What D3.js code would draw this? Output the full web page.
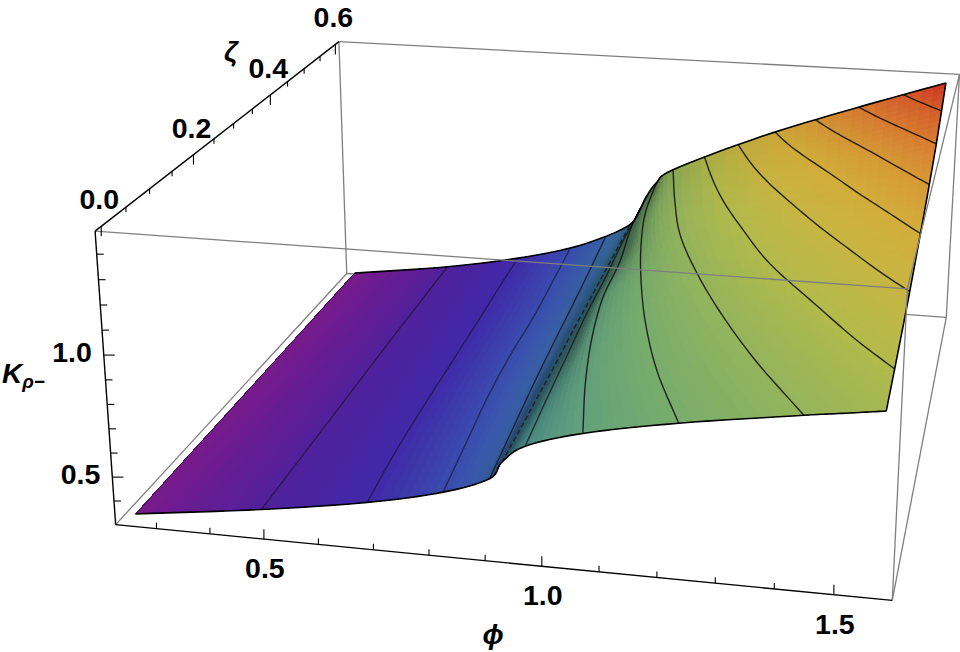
<!DOCTYPE html>
<html><head><meta charset="utf-8"><style>html,body{margin:0;background:#fff}svg{display:block}text{font-family:"Liberation Sans",Arial,sans-serif;font-weight:bold;fill:#000}</style></head><body>
<script src="https://cdnjs.cloudflare.com/ajax/libs/d3/7.8.5/d3.min.js"></script>
<svg id="c" width="960" height="652"></svg>
<script>
// ---- values ----
const phiDomain=[0.223,1.597], zetaDomain=[-0.012,0.612], kDomain=[0.3001,1.4899];
const camera=[[717.9832,335.547,-24.61713,115.6529],[36.29537,-168.7745,-303.4435,524.6729],[-0.0657121,0.3012812,-0.04266625,1]];
const zetaRows=[0,0.1,0.2,0.3,0.4,0.5,0.6];
const levels=[0.395,0.466,0.537,0.609,0.680,0.752,0.823,0.895,0.966,1.038,1.109,1.181,1.252,1.324,1.395];
const phiStart=0.2505, phiEnd=1.5708;
// phi where K reaches levels[0..8], one row per level, one column per zetaRows
const phiAtLevel=[
[.488,.485,.482,.479,.476,.474,.472],
[.683,.670,.662,.656,.650,.643,.637],
[.820,.805,.790,.781,.777,.768,.758],
[.903,.891,.879,.869,.860,.850,.839],
[.925,.921,.916,.910,.905,.900,.895],
[.966,.955,.945,.935,.929,.920,.915],
[1.066,1.024,.990,.966,.957,.938,.930],
[1.229,1.153,1.092,1.042,1.000,.968,.952],
[1.437,1.328,1.233,1.150,1.080,1.031,.989]];
const phiUpperA=[1.482,1.409,1.345,1.290,1.245,1.211,1.183];
const phiUpperB=[1.527,1.490,1.458,1.431,1.408,1.391,1.378];
const kStart=[.325,.325,.325,.325,.325,.326,.326];
const kUpperA=[.980,.995,1.014,1.040,1.066,1.107,1.156];
const kUpperB=[.994,1.025,1.060,1.103,1.156,1.222,1.315];
const kEnd=[1.008,1.052,1.105,1.172,1.245,1.337,1.461];
const colorK=[.323,.395,.466,.537,.609,.680,.752,.823,.895,.966,1.04,1.11,1.18,1.25,1.32,1.395,1.467];
const colorHex=["#7a1a8a","#50209c","#4029a8","#3a4cb0","#3c69b0","#3f7fa8","#4e9088","#62a07c","#78ad6c","#94b45c","#b3ba4a","#c8b542","#d3ad3a","#d89a36","#de7f32","#dd5f2c","#d63022"];
const phiMajor=[0.5,1.0,1.5], phiMinor=[0.3,0.4,0.6,0.7,0.8,0.9,1.1,1.2,1.3,1.4];
const zetaMajor=[0,0.2,0.4,0.6], zetaMinor=[0.05,0.1,0.15,0.25,0.3,0.35,0.45,0.5,0.55];
const kMajor=[0.5,1.0], kMinor=[0.4,0.6,0.7,0.8,0.9,1.1,1.2,1.3,1.4];

// ---- scales and projection ----
const sx=d3.scaleLinear(phiDomain,[0,1]), sy=d3.scaleLinear(zetaDomain,[0,1]), sz=d3.scaleLinear(kDomain,[0,1]);
function depth(a,b,c){const m=camera[2];return m[0]*sx(a)+m[1]*sy(b)+m[2]*sz(c)+m[3];}
function proj(a,b,c){const x=sx(a),y=sy(b),z=sz(c),w=depth(a,b,c);
  return camera.slice(0,2).map(m=>(m[0]*x+m[1]*y+m[2]*z+m[3])/w);}
const color=d3.scaleLinear().domain(colorK).range(colorHex).clamp(true);

function tangents(ys){const n=ys.length,m=new Array(n);
  for(let i=0;i<n;i++){const a=i>0?ys[i]-ys[i-1]:ys[1]-ys[0],b=i<n-1?ys[i+1]-ys[i]:a;
    m[i]=a*b<=0?0:Math.sign(a)*Math.min((Math.abs(a)+Math.abs(b))/2,3*Math.abs(a),3*Math.abs(b));}
  return m;}
function mono(ys,m,t){const i=Math.min(Math.floor(t),ys.length-2),s=t-i,s2=s*s,s3=s2*s;
  return (2*s3-3*s2+1)*ys[i]+(s3-2*s2+s)*m[i]+(-2*s3+3*s2)*ys[i+1]+(s3-s2)*m[i+1];}

const knotPhi=zetaRows.map((_,r)=>[phiStart,...phiAtLevel.map(a=>a[r]),phiUpperA[r],phiUpperB[r],phiEnd]);
const knotK=zetaRows.map((_,r)=>[kStart[r],...levels.slice(0,9),kUpperA[r],kUpperB[r],kEnd[r]]);
const nKnots=knotPhi[0].length, subU=8, subV=10, nu=(nKnots-1)*subU+1, nv=(zetaRows.length-1)*subV+1;
const colPhi=d3.range(nKnots).map(k=>knotPhi.map(r=>r[k])), colK=d3.range(nKnots).map(k=>knotK.map(r=>r[k]));
const colPhiM=colPhi.map(tangents), colKM=colK.map(tangents);
const gPhi=new Float64Array(nu*nv), gK=new Float64Array(nu*nv), gZ=new Float64Array(nu*nv);
for(let j=0;j<nv;j++){const tv=j/subV;
  const p=colPhi.map((c,k)=>mono(c,colPhiM[k],tv)), q=colK.map((c,k)=>mono(c,colKM[k],tv));
  const pm=tangents(p), qm=tangents(q), z=zetaRows[0]+(zetaRows[zetaRows.length-1]-zetaRows[0])*j/(nv-1);
  for(let i=0;i<nu;i++){const tu=i/subU,id=j*nu+i;gPhi[id]=mono(p,pm,tu);gK[id]=mono(q,qm,tu);gZ[id]=z;}}
function at(x,y){
  const u=Math.max(0,Math.min(nu-1.0001,x)),v=Math.max(0,Math.min(nv-1.0001,y)),i=Math.floor(u),j=Math.floor(v),a=u-i,b=v-j;
  const L=g=>(1-a)*(1-b)*g[j*nu+i]+a*(1-b)*g[j*nu+i+1]+(1-a)*b*g[(j+1)*nu+i]+a*b*g[(j+1)*nu+i+1];
  return proj(L(gPhi),L(gZ),L(gK));}

const svg=d3.select("#c");
const line=d3.line();
const GR="#7f7f7f";
function edge(g,a,b,col,w){g.append("path").attr("d",line([proj(...a),proj(...b)])).attr("fill","none").attr("stroke",col).attr("stroke-width",w);}
const [p0,p1]=phiDomain,[z0,z1]=zetaDomain,[k0,k1]=kDomain;

const back=svg.append("g");
edge(back,[p0,z1,k0],[p1,z1,k0],GR,1.3);
edge(back,[p0,z1,k0],[p0,z1,k1],GR,1.3);
edge(back,[p1,z1,k0],[p1,z1,k1],GR,1.3);
edge(back,[p0,z1,k1],[p1,z1,k1],GR,1.3);
edge(back,[p0,z0,k0],[p0,z1,k0],GR,1.3);
edge(back,[p1,z0,k0],[p1,z1,k0],GR,1.3);

const quads=[];
function norm3(i,j){const id=j*nu+i;return [sx(gPhi[id]),sy(gZ[id]),sz(gK[id])*0.7];}
const smooth=d3.scaleLinear([0.4,0.92],[0,1]).clamp(true);
for(let j=0;j<nv-1;j++)for(let i=0;i<nu-1;i++){
  const ids=[j*nu+i,j*nu+i+1,(j+1)*nu+i+1,(j+1)*nu+i];
  const K=d3.mean(ids,d=>gK[d]),ph=d3.mean(ids,d=>gPhi[d]),ze=d3.mean(ids,d=>gZ[d]);
  const A=norm3(i,j),B=norm3(i+1,j),C=norm3(i,j+1);
  const du=[B[0]-A[0],B[1]-A[1],B[2]-A[2]],dv=[C[0]-A[0],C[1]-A[1],C[2]-A[2]];
  const n=[du[1]*dv[2]-du[2]*dv[1],du[2]*dv[0]-du[0]*dv[2],du[0]*dv[1]-du[1]*dv[0]];
  const len=Math.hypot(...n)||1, nz=Math.abs(n[2])/len, t=smooth(nz);
  const shade=0.62+0.38*t*t*(3-2*t);
  const c=d3.rgb(color(K));
  const col=d3.rgb(c.r*shade,c.g*shade,c.b*shade).formatHex();
  quads.push({pts:ids.map(d=>proj(gPhi[d],gZ[d],gK[d])),col,w:depth(ph,ze,K)});
}
quads.sort((a,b)=>b.w-a.w);
svg.append("g").attr("shape-rendering","crispEdges").selectAll("path").data(quads).join("path")
  .attr("d",d=>line(d.pts)+"Z").attr("fill",d=>d.col).attr("stroke",d=>d.col).attr("stroke-width",1);

const contourGen=d3.contours().size([nu,nv]).smooth(true).thresholds(levels);
const contourG=svg.append("g").attr("fill","none").attr("stroke","#111").attr("stroke-width",1.4).attr("stroke-linejoin","round");
function draw(run,li){
  const dim=li<3?0.55:(li<6?0.72:0.88);
  const s=contourG.append("path").attr("d",line(run)).attr("stroke-opacity",dim);
  if(li===4)s.attr("stroke-dasharray","5 3");
}
contourGen(Array.from(gK)).forEach((cont,li)=>{
  cont.coordinates.forEach(poly=>poly.forEach(ring=>{
    const onB=p=>p[0]<=0||p[0]>=nu||p[1]<=0||p[1]>=nv;
    const start=ring.findIndex(onB); if(start<0)return;
    const n=ring.length-1; let run=[];
    for(let s=0;s<=n;s++){const p=ring[(start+s)%n];
      if(onB(p)){if(run.length>1)draw(run,li);run=[];}
      else run.push(at(p[0]-0.5,p[1]-0.5));}
    if(run.length>1)draw(run,li);
  }));
});

const outline=svg.append("g").attr("fill","none").attr("stroke","#000").attr("stroke-linejoin","round");
const rowPts=j=>d3.range(nu).map(i=>proj(gPhi[j*nu+i],gZ[j*nu+i],gK[j*nu+i]));
const colPts=i=>d3.range(nv).map(j=>proj(gPhi[j*nu+i],gZ[j*nu+i],gK[j*nu+i]));
outline.append("path").attr("d",line(rowPts(0))).attr("stroke-width",1.6);
outline.append("path").attr("d",line(rowPts(nv-1))).attr("stroke-width",1.6);
outline.append("path").attr("d",line(colPts(nu-1))).attr("stroke-width",1.6);
outline.append("path").attr("d",line(colPts(0))).attr("stroke-width",0.9).attr("stroke-opacity",0.6);

const front=svg.append("g");
edge(front,[p0,z0,k1],[p1,z0,k1],GR,1.3);
edge(front,[p1,z0,k0],[p1,z0,k1],GR,1.3);
edge(front,[p1,z0,k1],[p1,z1,k1],GR,1.3);
edge(front,[p0,z0,k0],[p1,z0,k0],"#000",1.4);
edge(front,[p0,z0,k0],[p0,z0,k1],"#000",1.4);
edge(front,[p0,z0,k1],[p0,z1,k1],"#000",1.4);

const ticks=svg.append("g").attr("stroke","#000").attr("stroke-width",1.1);
function tick(pos,dx,dy){ticks.append("line").attr("x1",pos[0]).attr("y1",pos[1]).attr("x2",pos[0]+dx).attr("y2",pos[1]+dy);}
phiMajor.forEach(v=>tick(proj(v,z0,k0),0,-10)); phiMinor.forEach(v=>tick(proj(v,z0,k0),0,-6));
zetaMajor.forEach(v=>tick(proj(p0,v,k1),0,10)); zetaMinor.forEach(v=>tick(proj(p0,v,k1),0,5));
kMajor.forEach(v=>tick(proj(p0,z0,v),11,0)); kMinor.forEach(v=>tick(proj(p0,z0,v),7,0));

const fmt=d3.format(".1f");
const labels=svg.append("g").attr("font-size",28.5);
phiMajor.forEach(v=>{const p=proj(v,z0,k0);labels.append("text").attr("x",p[0]+1).attr("y",p[1]+39).attr("text-anchor","middle").text(fmt(v));});
zetaMajor.forEach(v=>{const p=proj(p0,v,k1);labels.append("text").attr("x",p[0]-2).attr("y",p[1]-17).attr("text-anchor","middle").text(fmt(v));});
kMajor.forEach(v=>{const p=proj(p0,z0,v);labels.append("text").attr("x",p[0]-12).attr("y",p[1]+7).attr("text-anchor","end").text(fmt(v));});

const titles=svg.append("g").attr("font-style","italic");
titles.append("text").attr("x",493).attr("y",644).attr("text-anchor","middle").attr("font-size",28).text("\u03D5");
titles.append("text").attr("x",231).attr("y",61).attr("text-anchor","middle").attr("font-size",28).text("\u03B6");
const kt=titles.append("text").attr("x",2).attr("y",383).attr("font-size",28);
kt.append("tspan").text("K");
kt.append("tspan").attr("dy",5).attr("font-size",19).text("\u03C1\u2212");
</script></body></html>
